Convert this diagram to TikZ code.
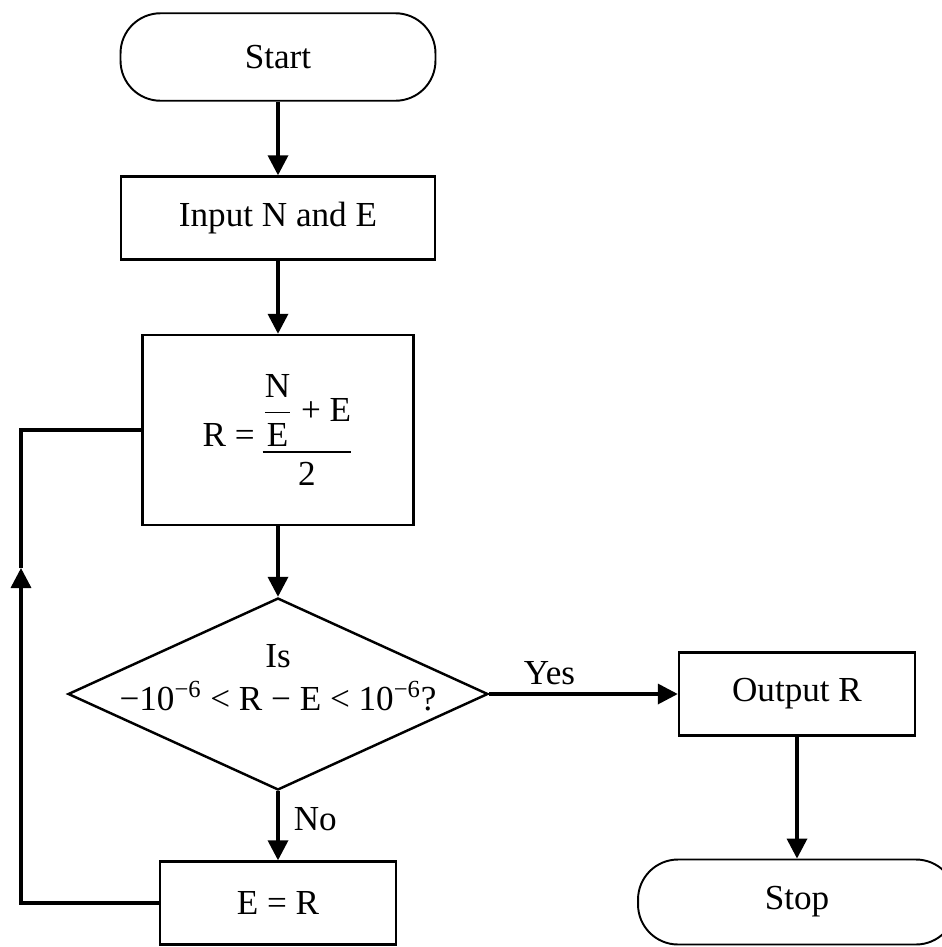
\documentclass[tikz,border=0pt]{standalone}
\usepackage{amsmath}
\usepackage{fontspec}
\setmainfont{Liberation Serif}
\usetikzlibrary{arrows.meta,shapes}
\tikzstyle{terminal}=[draw,rectangle,rounded corners=0.8cm,minimum width=6.3cm,minimum height=1.75cm,line width=1.1pt]
\tikzstyle{process}=[draw,rectangle,minimum width=4.72cm,minimum height=1.66cm,line width=1.4pt]
\tikzstyle{decision}=[draw,diamond,minimum width=8.4cm,minimum height=3.84cm,inner sep=0pt,line width=1.4pt]
\tikzstyle{arrow} = [draw,line width=2pt,-{Triangle[length=0.4cm,width=0.4cm]}]
\tikzstyle{line} = [draw,line width=2pt]
\tikzstyle{answer}=[inner sep=4pt]

\begin{document}
\begin{tikzpicture}[x=0.02cm,y=-0.02cm,every node/.style={font=\fontsize{20}{24.5}\selectfont}]
    \useasboundingbox (0,0) rectangle (942,947);
    \clip (0,0) rectangle (942,947);
    % First we draw the boxes
    \node[terminal] (start) at (278,57) {Start};
    \node[process,minimum width=6.28cm] (input) at (278,218) {Input N and E};
    \node[process,minimum width=5.42cm,minimum height=3.8cm] (calc) at (278,430)
        {\raisebox{8pt}{R =}\,$\dfrac{\dfrac{\text{N}}{\text{E}}\text{ + E}}{\text{2}}$};
    \node[decision] (test) at (278,694) {};
    \node[align=center] (testtext) at (278,678) {Is\\−10\textsuperscript{−6} < R − E < 10\textsuperscript{−6}?};
    \node[process] (output) at (797,694) {Output R};
    \node[process] (er) at (278,903) {E = R};
    \node[terminal,minimum width=6.36cm,minimum height=1.7cm] (stop) at (797,902) {Stop};
    \coordinate (loopmid) at (21,568);
    % Connect boxes with arrows
    \foreach \source/\dest in {start/input, input/calc, calc/test, output/stop}
        \path[arrow] (\source) -- (\dest);
    \path[arrow] (test) -- node[answer,pos=0.32,above] {Yes} (output);
    \path[arrow] (test) -- node[answer,pos=0.4,right=4pt] {No} (er);
    % Back to the formula
    \path[arrow] (er.west) -| (loopmid);
    \path[line] (loopmid) |- (calc.west);
\end{tikzpicture}
\end{document}
